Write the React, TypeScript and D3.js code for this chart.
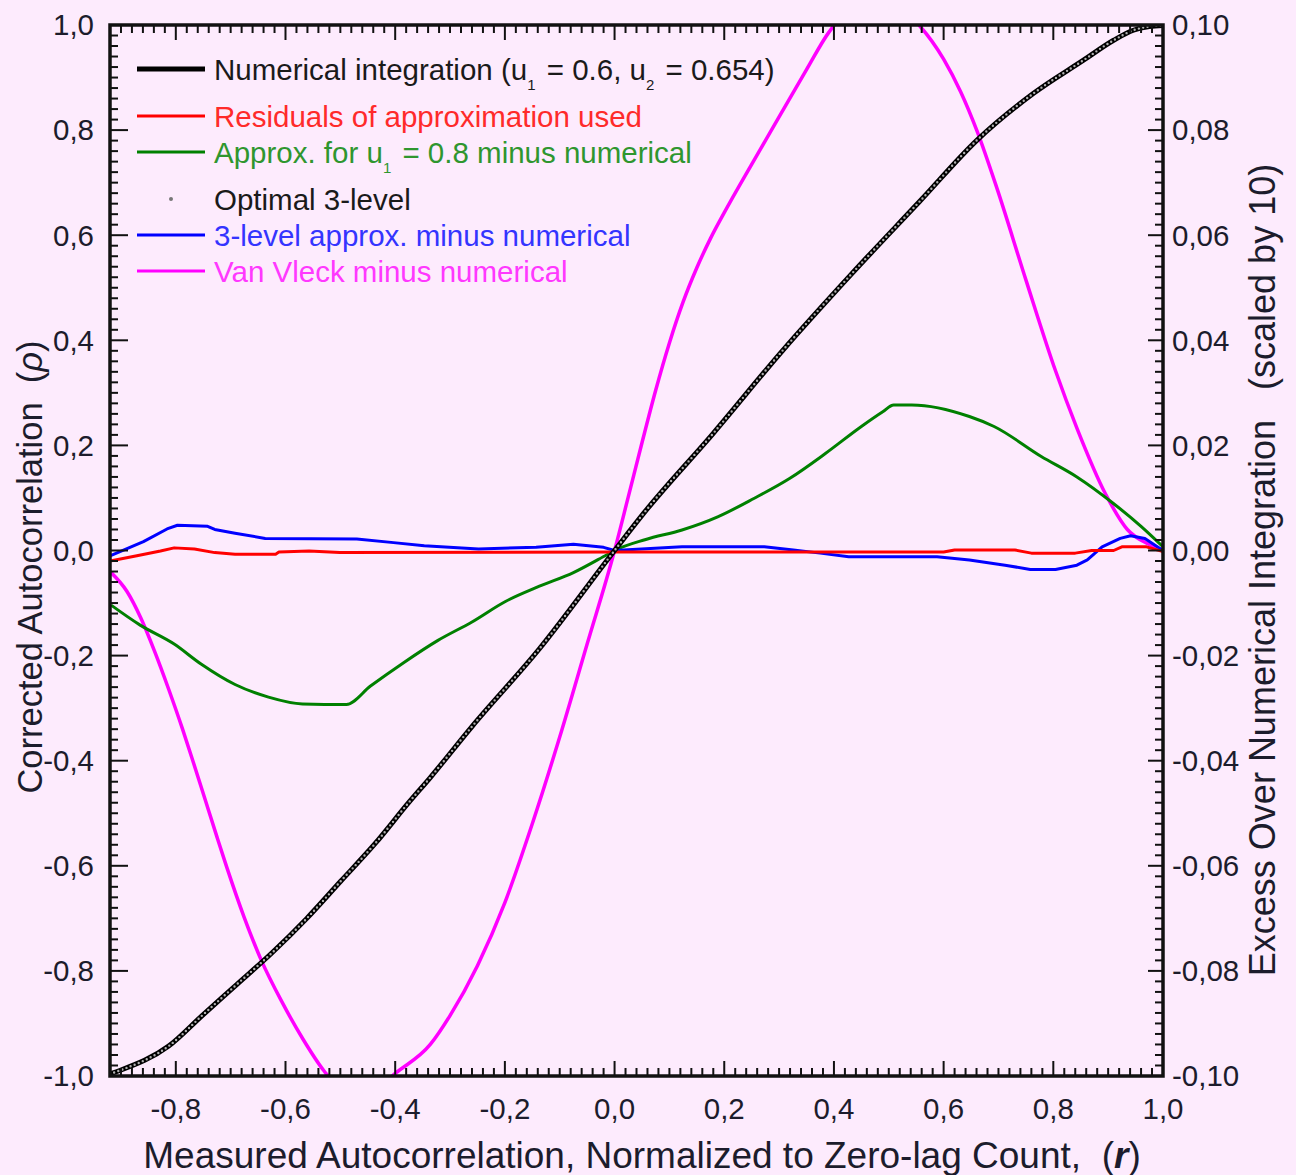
import React, { useEffect } from 'react'
import * as d3 from 'd3'

// Numerical integration (left axis): r -> rho
const numR = [-0.92, -0.901, -0.813, -0.751, -0.688, -0.625, -0.562, -0.499, -0.436, -0.374, -0.336, -0.26, -0.137, 0, 0.054, 0.18, 0.306, 0.431, 0.557, 0.661, 0.764, 0.855, 0.91, 0.946, 0.975, 1.0]
const numRho = [-0.996, -0.989, -0.943, -0.884, -0.825, -0.766, -0.701, -0.629, -0.557, -0.478, -0.432, -0.335, -0.187, 0, 0.072, 0.223, 0.38, 0.525, 0.665, 0.781, 0.87, 0.933, 0.971, 0.99, 0.997, 0.999]

// Residuals of approximation used (right axis)
const resR = [-0.92, -0.871, -0.828, -0.803, -0.766, -0.729, -0.692, -0.618, -0.612, -0.557, -0.501, 0, 0.6, 0.62, 0.73, 0.76, 0.84, 0.87, 0.91, 0.925, 0.97, 1.0]
const resV = [-0.002, -0.001, -0.0001, 0.0005, 0.0003, -0.0004, -0.0007, -0.0007, -0.0003, -0.0001, -0.0004, -0.0003, -0.0003, 0.0001, 0.0001, -0.0005, -0.0005, 0, 0, 0.0007, 0.0007, -0.0002]

// Approx. for u1 = 0.8 minus numerical (right axis)
const grnR = [-0.918, -0.865, -0.803, -0.754, -0.692, -0.631, -0.569, -0.489, -0.445, -0.384, -0.322, -0.26, -0.199, -0.137, -0.075, -0.014, 0, 0.057, 0.123, 0.188, 0.254, 0.319, 0.385, 0.45, 0.489, 0.509, 0.542, 0.647, 0.692, 0.778, 0.843, 0.909, 0.961, 1.0]
const grnV = [-0.0104, -0.0142, -0.0178, -0.0216, -0.0255, -0.0279, -0.0292, -0.0293, -0.0258, -0.0213, -0.0171, -0.0136, -0.0097, -0.0068, -0.0042, -0.0008, 0, 0.0021, 0.0039, 0.0064, 0.0099, 0.0137, 0.0185, 0.0236, 0.0264, 0.0277, 0.0277, 0.0255, 0.0236, 0.0179, 0.014, 0.009, 0.0045, 0.0007]

// 3-level approx. minus numerical (right axis)
const bluR = [-0.92, -0.859, -0.816, -0.797, -0.742, -0.729, -0.692, -0.637, -0.47, -0.403, -0.347, -0.248, -0.143, -0.075, -0.02, 0, 0.123, 0.273, 0.326, 0.375, 0.427, 0.588, 0.647, 0.712, 0.758, 0.804, 0.843, 0.862, 0.889, 0.922, 0.941, 0.967, 1.0]
const bluV = [-0.001, 0.0017, 0.0041, 0.0048, 0.0046, 0.004, 0.0033, 0.0023, 0.0022, 0.0015, 0.0009, 0.0003, 0.0006, 0.0012, 0.0006, 0, 0.0007, 0.0007, 0.0001, -0.0005, -0.0012, -0.0012, -0.0018, -0.0028, -0.0036, -0.0036, -0.0028, -0.0018, 0.0007, 0.0023, 0.0028, 0.0023, 0]

// Van Vleck minus numerical (right axis)
const vvR = [-0.918, -0.889, -0.864, -0.839, -0.813, -0.788, -0.769, -0.751, -0.725, -0.707, -0.675, -0.644, -0.606, -0.568, -0.53, -0.465, -0.4, -0.336, -0.3, -0.25, -0.2, -0.15, -0.1, -0.05, 0, 0.025, 0.05, 0.075, 0.1, 0.125, 0.15, 0.175, 0.2, 0.25, 0.3, 0.35, 0.39, 0.47, 0.555, 0.6, 0.631, 0.661, 0.697, 0.75, 0.804, 0.843, 0.895, 0.935, 0.974, 1.0]
const vvV = [-0.0042, -0.0078, -0.0128, -0.0191, -0.0264, -0.0339, -0.04, -0.0459, -0.0545, -0.0603, -0.0699, -0.078, -0.086, -0.093, -0.099, -0.105, -0.0995, -0.094, -0.0885, -0.079, -0.067, -0.052, -0.0355, -0.0178, 0, 0.0102, 0.0205, 0.0305, 0.0395, 0.0473, 0.0538, 0.0594, 0.0643, 0.0735, 0.0825, 0.0915, 0.0985, 0.1055, 0.1, 0.0935, 0.0873, 0.0798, 0.069, 0.0515, 0.0342, 0.0233, 0.0108, 0.004, 0.0012, 0]

const legendLabels = ['Numerical integration', 'Residuals of approximation used', 'Approx. for u', 'Optimal 3-level', '3-level approx. minus numerical', 'Van Vleck minus numerical']

const W = 1296
const H = 1175
const BG = '#fdebfd'
const FONT = '"Liberation Sans", Arial, sans-serif'

export default function App() {
  useEffect(() => {
    document.body.style.margin = '0'
    document.body.style.background = BG
  }, [])

  const L = 110, R = 1163, T = 25, B = 1076
  const x = d3.scaleLinear().domain([-0.92, 1]).range([L, R])
  const yL = d3.scaleLinear().domain([-1, 1]).range([B, T])
  const yR = d3.scaleLinear().domain([-0.1, 0.1]).range([B, T])

  const lineL = (rs: number[], vs: number[], curve: any) =>
    d3.line<number>().x((_, i) => x(rs[i])).y(v => yL(v)).curve(curve)(vs) || ''
  const lineR = (rs: number[], vs: number[], curve: any) =>
    d3.line<number>().x((_, i) => x(rs[i])).y(v => yR(v)).curve(curve)(vs) || ''

  const numPath = lineL(numR, numRho, d3.curveMonotoneX)
  const resPath = lineR(resR, resV, d3.curveLinear)
  const grnPath = lineR(grnR, grnV, d3.curveMonotoneX)
  const bluPath = lineR(bluR, bluV, d3.curveLinear)
  const vvPath = lineR(vvR, vvV, d3.curveMonotoneX)

  const xTicks = d3.range(-46, 51).map(k => ({ v: k / 50, major: k % 10 === 0 }))
  const yTicks = d3.range(-50, 51).map(k => ({ v: k / 50, major: k % 10 === 0 }))
  const fix = (s: string) => s.replace('\u2212', '-').replace('.', ',')
  const fmt1 = (v: number) => fix(d3.format('.1f')(Math.abs(v) < 1e-9 ? 0 : v))
  const fmt2 = (v: number) => fix(d3.format('.2f')(Math.abs(v) < 1e-9 ? 0 : v))

  const MAJ = 15, MIN = 8
  const tickColor = '#111'
  const labelColor = '#1c1c2c'
  const tickFs = 29.5

  const legendRows = [
    { y: 69, color: '#000', w: 5, text: legendLabels[0], tc: '#1a1a1a' },
    { y: 116, color: '#ff0000', w: 3, text: legendLabels[1], tc: '#ff2a2a' },
    { y: 152, color: '#008000', w: 3, text: legendLabels[2], tc: '#2f962f' },
    { y: 199, color: null, w: 0, text: legendLabels[3], tc: '#1a1a1a' },
    { y: 235, color: '#0000ff', w: 3, text: legendLabels[4], tc: '#3434ff' },
    { y: 271, color: '#ff00ff', w: 3, text: legendLabels[5], tc: '#ff38ff' },
  ]

  return (
    <div style={{ position: 'absolute', left: 0, top: 0, width: W, height: H, background: BG }}>
      <svg width={W} height={H} style={{ display: 'block', fontFamily: FONT }}>
        <rect x={0} y={0} width={W} height={H} fill={BG} />
        <defs>
          <clipPath id="plot">
            <rect x={L} y={T} width={R - L} height={B - T} />
          </clipPath>
        </defs>

        <g clipPath="url(#plot)" fill="none" strokeLinejoin="round">
          <path d={vvPath} stroke="#ff00ff" strokeWidth={3.5} />
          <path d={grnPath} stroke="#008000" strokeWidth={3} />
          <path d={bluPath} stroke="#0000ff" strokeWidth={3} />
          <path d={resPath} stroke="#ff0000" strokeWidth={3} />
          <path d={numPath} stroke="#000" strokeWidth={5} />
          <path d={numPath} stroke="#b0b0b0" strokeWidth={2.4} strokeDasharray="0 4.4" strokeLinecap="round" />
        </g>

        {/* ticks */}
        <g stroke={tickColor} strokeWidth={2}>
          {xTicks.map((t, i) => (
            <g key={'x' + i}>
              <line x1={x(t.v)} x2={x(t.v)} y1={B} y2={B - (t.major ? MAJ : MIN)} />
              <line x1={x(t.v)} x2={x(t.v)} y1={T} y2={T + (t.major ? MAJ : MIN)} />
            </g>
          ))}
          {yTicks.map((t, i) => (
            <g key={'y' + i}>
              <line x1={L} x2={L + (t.major ? MAJ + 3 : MIN)} y1={yL(t.v)} y2={yL(t.v)} />
              <line x1={R} x2={R - (t.major ? MAJ : MIN)} y1={yL(t.v)} y2={yL(t.v)} />
            </g>
          ))}
        </g>
        <rect x={L} y={T} width={R - L} height={B - T} fill="none" stroke="#111" strokeWidth={3.5} />

        {/* tick labels */}
        <g fontSize={tickFs} fill={labelColor}>
          {xTicks.filter(t => t.major).map((t, i) => (
            <text key={'xl' + i} x={x(t.v)} y={1119} textAnchor="middle">{fmt1(t.v)}</text>
          ))}
          {yTicks.filter(t => t.major).map((t, i) => (
            <text key={'yl' + i} x={94} y={yL(t.v)} dy="0.35em" textAnchor="end">{fmt1(t.v)}</text>
          ))}
          {yTicks.filter(t => t.major).map((t, i) => (
            <text key={'yr' + i} x={1172} y={yR(t.v / 10)} dy="0.35em" textAnchor="start">{fmt2(t.v / 10)}</text>
          ))}
        </g>

        {/* axis titles */}
        <text x={642} y={1168} fontSize={37} textAnchor="middle" fill={labelColor}>
          Measured Autocorrelation, Normalized to Zero-lag Count,{'\u00a0\u00a0'}(<tspan fontStyle="italic" fontWeight="bold">r</tspan>)
        </text>
        <text transform="translate(42,567) rotate(-90)" fontSize={34.5} textAnchor="middle" fill={labelColor}>
          Corrected Autocorrelation{'\u00a0\u00a0'}(<tspan fontStyle="italic">ρ</tspan>)
        </text>
        <text transform="translate(1275,570) rotate(-90)" fontSize={36} textAnchor="middle" fill={labelColor}>
          Excess Over Numerical Integration{'\u00a0\u00a0\u00a0'}(scaled by 10)
        </text>

        {/* legend */}
        <g fontSize={29.5}>
          {legendRows.map((row, i) => (
            <g key={'lg' + i}>
              {row.color ? (
                <line x1={137} x2={205} y1={row.y} y2={row.y} stroke={row.color} strokeWidth={row.w} />
              ) : (
                <circle cx={171} cy={row.y} r={2} fill="#777" />
              )}
              {i === 0 ? (
                <text x={214} y={row.y} dy="0.36em" fill={row.tc}>
                  Numerical integration (u<tspan fontSize={15} dy={10}>1</tspan>
                  <tspan dy={-10} dx={3}>{'\u00a0'}= 0.6, u</tspan><tspan fontSize={15} dy={10}>2</tspan>
                  <tspan dy={-10} dx={3}>{'\u00a0'}= 0.654)</tspan>
                </text>
              ) : i === 2 ? (
                <text x={214} y={row.y} dy="0.36em" fill={row.tc}>
                  Approx. for u<tspan fontSize={15} dy={10}>1</tspan>
                  <tspan dy={-10} dx={3}>{'\u00a0'}= 0.8 minus numerical</tspan>
                </text>
              ) : (
                <text x={214} y={row.y} dy="0.36em" fill={row.tc}>{row.text}</text>
              )}
            </g>
          ))}
        </g>
      </svg>
    </div>
  )
}
